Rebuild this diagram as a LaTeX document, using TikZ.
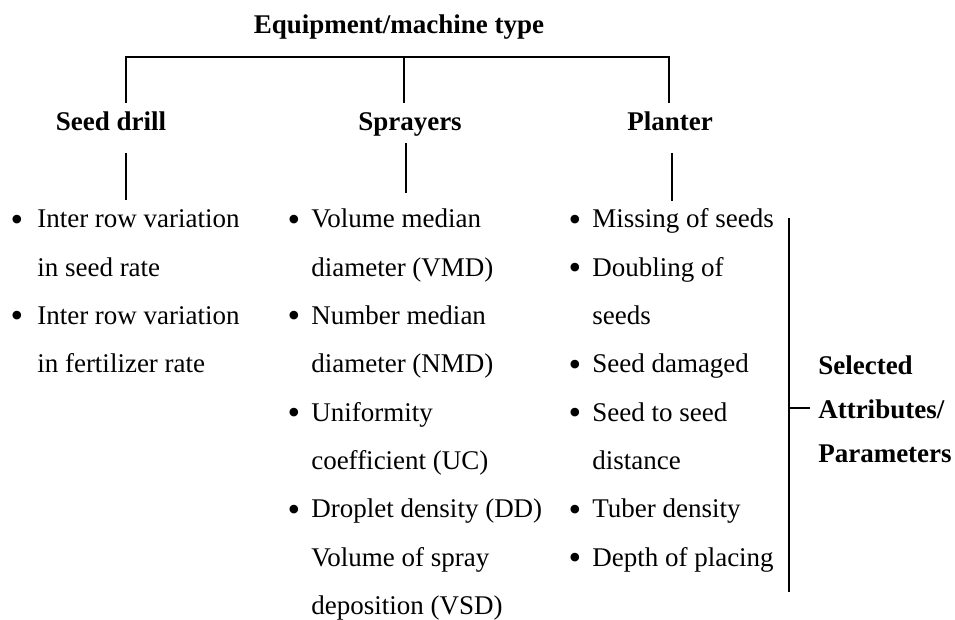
\documentclass[tikz,border=0pt]{standalone}
\usepackage{fontspec}
\setmainfont{Liberation Serif}
\begin{document}
\begin{tikzpicture}[x=0.75pt,y=-0.75pt,
  conn/.style={line width=1pt,black},
  txt/.style={anchor=base west,inner sep=0pt,font=\fontsize{20.25}{24}\selectfont},
  bul/.style={anchor=base,inner sep=0pt,yshift=-2.5pt,font=\fontsize{27}{30}\selectfont},
  head/.style={anchor=base,inner sep=0pt,font=\fontsize{20.25}{24}\selectfont\bfseries},
  side/.style={anchor=base west,inner sep=0pt,font=\fontsize{20.25}{24}\selectfont\bfseries}]
\useasboundingbox (0,0) rectangle (955,620);
% title and headers
\node[head] (title) at (399,34) {Equipment/machine type};
\node[head] (sd) at (111,131) {Seed drill};
\node[head] (sp) at (410,131) {Sprayers};
\node[head] (pl) at (670,131) {Planter};
% tree connectors
\coordinate (hl) at (126,57);
\coordinate (hm) at (404,57);
\coordinate (hr) at (669,57);
\coordinate (dl) at (126,103);
\coordinate (dm) at (404,103);
\coordinate (dr) at (669,103);
\draw[conn] (dl) -- (hl) -- (hr) -- (dr);
\draw[conn] (hm) -- (dm);
\coordinate (sdt) at (126,153);
\coordinate (sdb) at (126,200);
\coordinate (spt) at (406,143);
\coordinate (spb) at (406,193);
\coordinate (plt) at (672,153);
\coordinate (plb) at (672,201);
\draw[conn] (sdt) -- (sdb);
\draw[conn] (spt) -- (spb);
\draw[conn] (plt) -- (plb);
% seed drill list
\node[bul] (b11) at (17,228) {•};
\node[txt] (s1) at (37,228) {Inter row variation};
\node[txt] (s2) at (37,276.3) {in seed rate};
\node[bul] (b12) at (17,324.6) {•};
\node[txt] (s3) at (37,324.6) {Inter row variation};
\node[txt] (s4) at (37,372.9) {in fertilizer rate};
% sprayers list
\node[bul] (b21) at (294,228) {•};
\node[txt] (p1) at (311,228) {Volume median};
\node[txt] (p2) at (311,276.3) {diameter (VMD)};
\node[bul] (b22) at (294,324.6) {•};
\node[txt] (p3) at (311,324.6) {Number median};
\node[txt] (p4) at (311,372.9) {diameter (NMD)};
\node[bul] (b23) at (294,421.2) {•};
\node[txt] (p5) at (311,421.2) {Uniformity};
\node[txt] (p6) at (311,469.5) {coefficient (UC)};
\node[bul] (b24) at (294,517.8) {•};
\node[txt] (p7) at (311,517.8) {Droplet density (DD)};
\node[txt] (p8) at (311,566.1) {Volume of spray};
\node[txt] (p9) at (311,614.4) {deposition (VSD)};
% planter list
\node[bul] (b31) at (575,228) {•};
\node[txt] (q1) at (592,228) {Missing of seeds};
\node[bul] (b32) at (575,276.3) {•};
\node[txt] (q2) at (592,276.3) {Doubling of};
\node[txt] (q3) at (592,324.6) {seeds};
\node[bul] (b33) at (575,372.9) {•};
\node[txt] (q4) at (592,372.9) {Seed damaged};
\node[bul] (b34) at (575,421.2) {•};
\node[txt] (q5) at (592,421.2) {Seed to seed};
\node[txt] (q6) at (592,469.5) {distance};
\node[bul] (b35) at (575,517.8) {•};
\node[txt] (q7) at (592,517.8) {Tuber density};
\node[bul] (b36) at (575,566.1) {•};
\node[txt] (q8) at (592,566.1) {Depth of placing};
% bracket
\coordinate (bt) at (789,218);
\coordinate (bb) at (789,592);
\coordinate (bm) at (789,408);
\coordinate (be) at (810,408);
\draw[conn] (bt) -- (bb);
\draw[conn] (bm) -- (be);
\node[side] (a1) at (818,374) {Selected};
\node[side] (a2) at (818,418) {Attributes/};
\node[side] (a3) at (818,462) {Parameters};
\end{tikzpicture}
\end{document}
